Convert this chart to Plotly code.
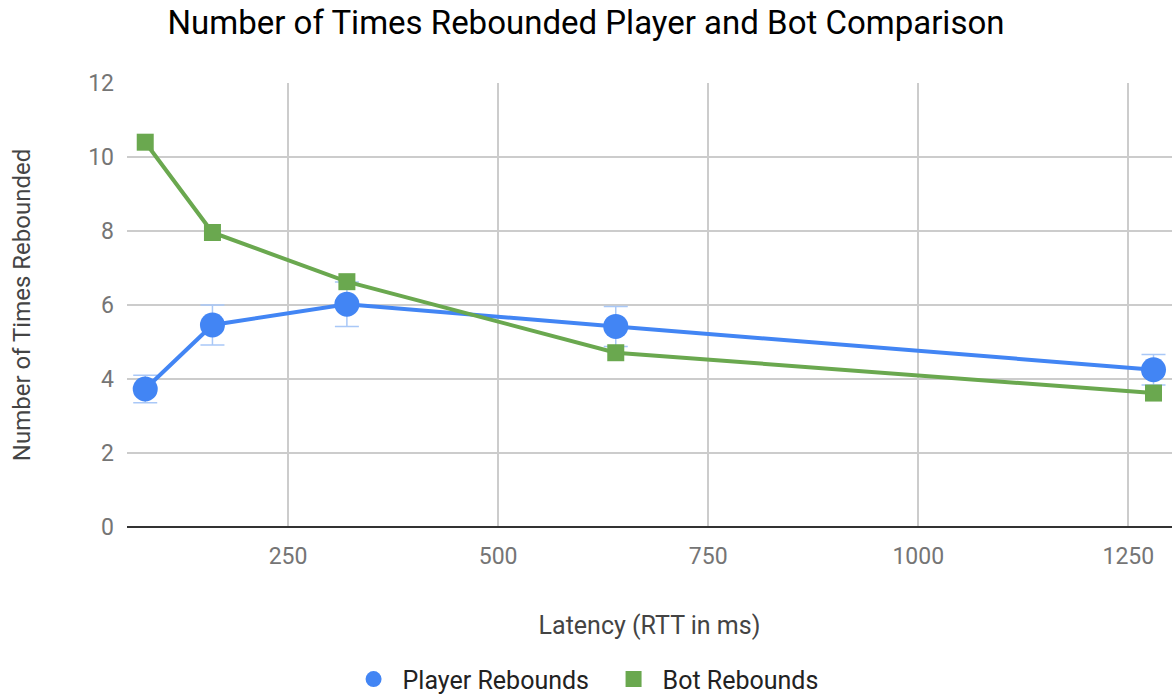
import plotly.graph_objects as go

# Round-trip latency settings (ms)
latency = [80, 160, 320, 640, 1280]

# Average rebounds per round
player_rebounds = [3.73, 5.46, 6.02, 5.42, 4.25]
player_err = [0.37, 0.54, 0.60, 0.54, 0.41]
bot_rebounds = [10.40, 7.96, 6.63, 4.71, 3.62]

x_ticks = [250, 500, 750, 1000, 1250]
y_ticks = [0, 2, 4, 6, 8, 10, 12]

series_names = ["Player Rebounds", "Bot Rebounds"]

BLUE = "#4285f4"
GREEN = "#6aa84f"
FONT = "Roboto"

fig = go.Figure()

fig.add_trace(go.Scatter(
    x=latency, y=player_rebounds, name=series_names[0],
    mode="lines+markers", showlegend=False, legendgroup="p",
    line=dict(color=BLUE, width=4),
    marker=dict(symbol="circle", size=25, color=BLUE),
    error_y=dict(type="data", array=player_err, visible=True,
                 color="#a9c8f7", thickness=1.5, width=12),
))

fig.add_trace(go.Scatter(
    x=latency, y=bot_rebounds, name=series_names[1],
    mode="lines+markers", showlegend=False, legendgroup="b",
    line=dict(color=GREEN, width=4),
    marker=dict(symbol="square", size=17, color=GREEN),
))

# Marker-only legend keys
fig.add_trace(go.Scatter(
    x=[None], y=[None], name=series_names[0], mode="markers",
    legendgroup="p", marker=dict(symbol="circle", size=24, color=BLUE),
))
fig.add_trace(go.Scatter(
    x=[None], y=[None], name=series_names[1], mode="markers",
    legendgroup="b", marker=dict(symbol="square", size=16, color=GREEN),
))

fig.update_layout(
    width=1172, height=698,
    margin=dict(l=127, r=0, t=83, b=171, autoexpand=False),
    paper_bgcolor="white", plot_bgcolor="white",
    font=dict(family=FONT, color="#757575", size=22),
    title=dict(text="Number of Times Rebounded Player and Bot Comparison",
               x=0.5, xanchor="center", y=0.968, yanchor="middle",
               font=dict(family=FONT, size=33, color="#000000")),
    legend=dict(orientation="h", x=0.457, xanchor="center",
                y=-0.343, yanchor="middle",
                font=dict(size=25, color="#222222"),
                itemwidth=48, entrywidth=197, entrywidthmode="pixels",
                traceorder="normal", itemsizing="trace"),
    showlegend=True,
)

fig.update_xaxes(
    range=[58.3, 1302], tickvals=x_ticks, ticktext=[str(v) for v in x_ticks],
    showgrid=True, gridcolor="#cccccc", gridwidth=1.5,
    zeroline=False, showline=False, ticks="", ticklabelstandoff=13,
    tickfont=dict(size=23, color="#757575"),
    title=dict(text="Latency (RTT in ms)", standoff=47,
               font=dict(size=25, color="#444444")),
)

fig.update_yaxes(
    range=[0, 12], tickvals=y_ticks,
    showgrid=True, gridcolor="#cccccc", gridwidth=1.5,
    zeroline=True, zerolinecolor="#333333", zerolinewidth=2,
    showline=False, ticks="", ticklabelstandoff=12,
    tickfont=dict(size=23, color="#757575"),
    title=dict(text="Number of Times Rebounded", standoff=50,
               font=dict(size=24, color="#444444")),
)

fig.write_html("out.html")
